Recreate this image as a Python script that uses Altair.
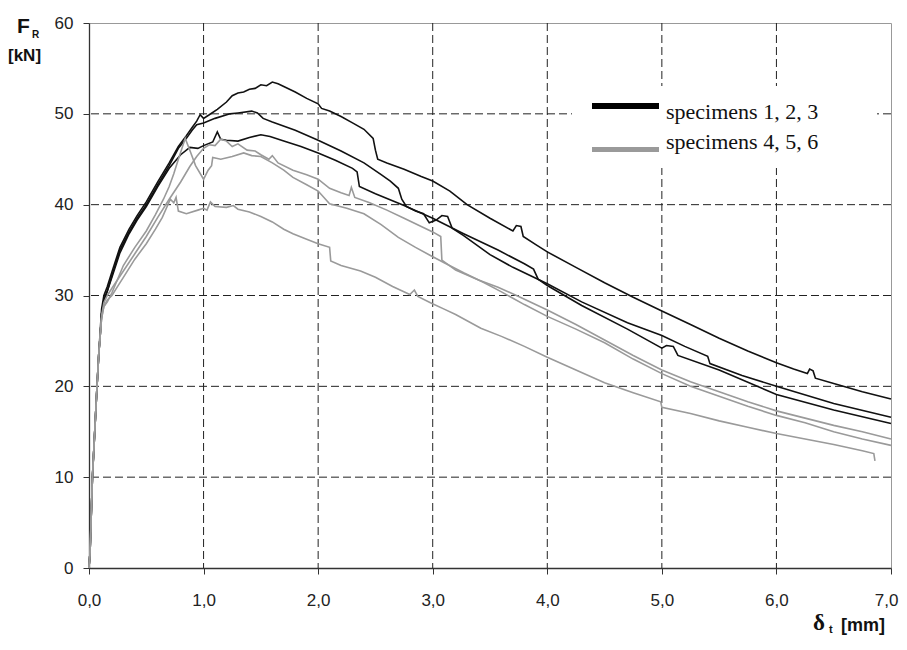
import altair as alt
import pandas as pd

# ---------------- data ----------------
b1_x = [0, 0.01, 0.02, 0.03, 0.05, 0.07, 0.085, 0.1, 0.11, 0.13, 0.16, 0.2, 0.27, 0.35, 0.42, 0.5, 0.6, 0.7, 0.78, 0.85, 0.9, 0.94,
        0.97, 1.0, 1.05, 1.12, 1.2, 1.25, 1.3, 1.35, 1.4, 1.45, 1.5, 1.55, 1.6, 1.65, 1.7, 1.8, 1.9, 2.0, 2.03, 2.1, 2.2, 2.3,
        2.4, 2.48, 2.5, 2.52, 2.6, 2.75, 2.9, 3.0, 3.15, 3.3, 3.5, 3.7, 3.73, 3.77, 3.79, 3.9, 4.0, 4.25, 4.5, 4.75, 5.0,
        5.25, 5.5, 5.75, 6.0, 6.15, 6.27, 6.29, 6.32, 6.34, 6.5, 6.75, 7.0]
b1_y = [0, 2, 6, 10, 15, 20, 23.5, 26.5, 28.5, 30, 31, 32.6, 35.3, 37.3, 38.8, 40.3, 42.5, 44.6, 46.4, 47.6, 48.5, 49.2,
        49.9, 49.5, 49.9, 50.5, 51.3, 52.0, 52.3, 52.4, 52.7, 52.8, 53.2, 53.1, 53.5, 53.3, 53.0, 52.4, 51.7, 51.1, 50.6, 50.3, 49.7, 49.0,
        48.3, 47.3, 46.0, 45.0, 44.6, 43.9, 43.1, 42.6, 41.5, 40.0, 38.5, 37.1, 37.7, 37.6, 36.5, 35.6, 34.8, 33.1, 31.4, 29.8, 28.3,
        26.8, 25.3, 23.9, 22.6, 21.9, 21.4, 21.9, 21.7, 20.9, 20.3, 19.4, 18.6]

b2_x = [0, 0.01, 0.02, 0.03, 0.05, 0.07, 0.085, 0.1, 0.11, 0.13, 0.16, 0.2, 0.27, 0.35, 0.42, 0.5, 0.6, 0.7, 0.78, 0.85, 0.9, 0.94,
        1.0, 1.1, 1.23, 1.3, 1.42, 1.47, 1.52, 1.6, 1.8, 2.0, 2.2, 2.4, 2.55, 2.63, 2.7, 2.73, 2.77, 2.85, 2.92, 2.97, 3.03, 3.08,
        3.13, 3.17, 3.27, 3.5, 3.7, 3.85, 4.0, 4.3, 4.7, 5.0, 5.2, 5.4, 5.42, 5.7, 6.0, 6.5, 7.0]
b2_y = [0, 2, 6, 10, 15, 20, 23.5, 26, 28, 29.5, 30.5, 32.2, 35, 37, 38.5, 40, 42.2, 44.3, 46.2, 47.3, 48.2, 48.8,
        49.0, 49.5, 50.0, 50.1, 50.3, 50.1, 49.5, 49.1, 48.2, 47.1, 45.9, 44.6, 43.3, 42.6, 41.8, 40.6, 39.8, 39.3, 39.0, 38.0, 38.3, 38.8,
        38.7, 37.4, 36.6, 34.5, 33.1, 32.2, 31.3, 29.3, 27.0, 25.6, 24.4, 23.3, 22.5, 21.2, 20.0, 18.1, 16.6]

b3_x = [0, 0.01, 0.02, 0.03, 0.05, 0.07, 0.085, 0.1, 0.11, 0.13, 0.16, 0.2, 0.27, 0.35, 0.42, 0.5, 0.6, 0.7, 0.8, 0.88, 0.95,
        1.0, 1.08, 1.12, 1.15, 1.2, 1.3, 1.4, 1.5, 1.58, 1.7, 1.85, 2.0, 2.15, 2.3, 2.34, 2.36, 2.5, 2.75, 3.0, 3.27, 3.57, 3.8,
        3.88, 3.92, 4.0, 4.3, 4.7, 5.0, 5.04, 5.1, 5.14, 5.5, 6.0, 6.5, 7.0]
b3_y = [0, 2, 6, 10, 15, 20, 23.5, 26, 28, 29.5, 30.5, 32.0, 34.7, 36.8, 38.3, 39.8, 42.0, 44.0, 45.5, 46.3, 46.2,
        46.5, 46.9, 48.0, 47.2, 47.1, 47.0, 47.4, 47.7, 47.5, 47.0, 46.4, 45.7, 44.9, 44.0, 43.6, 42.0, 41.2, 39.9, 38.5, 36.8, 35.0, 33.5,
        32.9, 31.8, 31.1, 28.9, 26.3, 24.2, 24.5, 24.4, 23.4, 21.8, 19.1, 17.4, 15.9]

g1_x = [0, 0.01, 0.02, 0.03, 0.05, 0.07, 0.085, 0.1, 0.11, 0.13, 0.16, 0.2, 0.3, 0.4, 0.5, 0.6, 0.7, 0.8, 0.88, 0.94, 1.0, 1.05,
        1.1, 1.15, 1.2, 1.25, 1.3, 1.38, 1.45, 1.5, 1.57, 1.6, 1.65, 1.78, 1.9, 2.0, 2.1, 2.2, 2.27, 2.29, 2.32, 2.45, 2.6, 2.75,
        2.9, 3.0, 3.07, 3.08, 3.2, 3.4, 3.57, 3.75, 4.0, 4.25, 4.5, 4.75, 5.0, 5.25, 5.5, 5.75, 6.0, 6.25, 6.5, 6.75, 7.0]
g1_y = [0, 2, 6, 10, 15, 20, 23.5, 26, 27.8, 29.2, 30.0, 30.8, 32.7, 34.6, 36.5, 38.6, 40.6, 42.5, 44.2, 45.3, 46.2, 46.6,
        46.5, 47.2, 47.0, 46.4, 46.7, 46.0, 45.9, 45.5, 45.0, 45.4, 44.6, 43.8, 43.3, 42.8, 41.8, 41.3, 41.0, 41.9, 40.8, 40.2, 39.4, 38.5,
        37.6, 37.0, 36.5, 33.9, 32.8, 31.7, 30.9, 29.9, 28.4, 26.8, 25.1, 23.4, 21.8, 20.5, 19.4, 18.3, 17.3, 16.5, 15.7, 15.0, 14.2]

g2_x = [0, 0.01, 0.02, 0.03, 0.05, 0.07, 0.085, 0.1, 0.11, 0.13, 0.16, 0.2, 0.3, 0.4, 0.5, 0.58, 0.65, 0.7, 0.74, 0.78, 0.84,
        0.88, 0.93, 1.0, 1.04, 1.07, 1.08, 1.15, 1.25, 1.35, 1.42, 1.5, 1.6, 1.7, 1.78, 1.9, 2.0, 2.1, 2.25, 2.4, 2.55, 2.7, 2.85,
        2.98, 3.1, 3.27, 3.45, 3.6, 3.8, 4.0, 4.25, 4.5, 4.75, 5.0, 5.25, 5.5, 5.75, 6.0, 6.25, 6.5, 6.75, 7.0]
g2_y = [0, 2, 6, 10, 15, 20, 23.5, 26, 27.5, 28.8, 29.3, 30.3, 33.3, 35.3, 37.1, 38.9, 40.6, 42.0, 43.4, 45.0, 47.3,
        46.0, 44.3, 42.8, 43.8, 44.3, 45.2, 45.0, 45.3, 45.7, 45.4, 45.3, 44.6, 43.8, 43.0, 42.2, 41.5, 40.1, 39.6, 39.0, 37.8, 36.4, 35.3,
        34.4, 33.6, 32.5, 31.4, 30.4, 29.0, 27.7, 26.3, 24.8, 23.0, 21.4, 20.0, 18.9, 17.8, 16.8, 16.0, 15.0, 14.2, 13.5]

g3_x = [0, 0.01, 0.02, 0.03, 0.05, 0.07, 0.085, 0.1, 0.11, 0.13, 0.16, 0.2, 0.25, 0.3, 0.4, 0.5, 0.58, 0.64, 0.71, 0.74, 0.76,
        0.78, 0.85, 0.95, 1.0, 1.03, 1.06, 1.1, 1.2, 1.26, 1.3, 1.4, 1.5, 1.6, 1.7, 1.78, 1.9, 2.0, 2.1, 2.11, 2.2, 2.37, 2.5,
        2.65, 2.8, 2.84, 2.87, 2.98, 3.1, 3.2, 3.42, 3.6, 3.8, 4.0, 4.25, 4.5, 4.75, 4.99, 5.0, 5.25, 5.5, 5.75, 6.0, 6.25, 6.5,
        6.75, 6.85, 6.86]
g3_y = [0, 2, 6, 10, 15, 20, 23.5, 26, 27.5, 28.8, 29.5, 30.0, 31.0, 32.0, 34.0, 35.7, 37.3, 38.6, 40.6, 40.2, 40.8,
        39.3, 39.0, 39.4, 39.6, 39.4, 40.3, 39.8, 39.7, 39.9, 39.5, 39.2, 38.7, 38.1, 37.3, 36.8, 36.2, 35.7, 35.3, 33.8, 33.3, 32.7, 32.0,
        31.0, 30.1, 30.6, 29.9, 29.2, 28.5, 27.9, 26.4, 25.5, 24.4, 23.2, 21.8, 20.4, 19.3, 18.3, 17.7, 17.0, 16.2, 15.5, 14.8, 14.2, 13.6,
        12.9, 12.6, 11.8]

curves = [
    ("1", "specimens 1, 2, 3", b1_x, b1_y),
    ("2", "specimens 1, 2, 3", b2_x, b2_y),
    ("3", "specimens 1, 2, 3", b3_x, b3_y),
    ("4", "specimens 4, 5, 6", g1_x, g1_y),
    ("5", "specimens 4, 5, 6", g2_x, g2_y),
    ("6", "specimens 4, 5, 6", g3_x, g3_y),
]

x_ticks = [0, 1, 2, 3, 4, 5, 6, 7]
y_ticks = [0, 10, 20, 30, 40, 50, 60]
grid_x = [1, 2, 3, 4, 5, 6]
grid_y = [10, 20, 30, 40, 50]
groups = ["specimens 1, 2, 3", "specimens 4, 5, 6"]
group_colors = ["#111111", "#9a9a9a"]

rows = []
for sid, grp, xs, ys in curves:
    for i, (xv, yv) in enumerate(zip(xs, ys)):
        rows.append({"specimen": sid, "group": grp, "i": i, "x": xv, "y": yv})
df = pd.DataFrame(rows)

W, H = 802, 545
xscale = alt.Scale(domain=[0, 7], nice=False, zero=True)
yscale = alt.Scale(domain=[0, 60], nice=False, zero=True)

x_axis = alt.Axis(values=x_ticks, grid=False, title=None, labelFlush=False,
                  labelExpr="replace(format(datum.value, '.1f'), '.', ',')",
                  labelAlign={"condition": {"test": "datum.value >= 7", "value": "right"}, "value": "center"},
                  labelOffset={"condition": {"test": "datum.value >= 7", "value": 7}, "value": 0},
                  labelFont="Liberation Sans", labelFontSize=17, labelColor="#222",
                  labelPadding=18, tickSize=6, tickColor="#333",
                  domainColor="#333", domainWidth=1.3)
y_axis = alt.Axis(values=y_ticks, grid=False, title=None, format="d", labelFlush=False,
                  labelFont="Liberation Sans", labelFontSize=17, labelColor="#222",
                  labelPadding=10, tickSize=6, tickColor="#333",
                  domainColor="#333", domainWidth=1.3)

grid_v = alt.Chart(pd.DataFrame({"gx": grid_x})).mark_rule(
    color="#222", strokeWidth=1, strokeDash=[8, 4]
).encode(x=alt.X("gx:Q", scale=xscale, axis=x_axis, title=None))

grid_h = alt.Chart(pd.DataFrame({"gy": grid_y})).mark_rule(
    color="#222", strokeWidth=1, strokeDash=[8, 4]
).encode(y=alt.Y("gy:Q", scale=yscale, axis=y_axis, title=None))

lines = alt.Chart(df).mark_line(strokeWidth=1.6, interpolate="linear").encode(
    x=alt.X("x:Q", scale=xscale, axis=x_axis, title=None),
    y=alt.Y("y:Q", scale=yscale, axis=y_axis, title=None),
    color=alt.Color("group:N", scale=alt.Scale(domain=groups, range=group_colors), legend=None),
    detail="specimen:N",
    order=alt.Order("i:Q"),
)

# legend (drawn by hand, like the reference)
leg_box = alt.Chart(pd.DataFrame({"k": [0]})).mark_rect(fill="white").encode(
    x=alt.value(483), x2=alt.value(788), y=alt.value(63), y2=alt.value(145))
leg_black = alt.Chart(pd.DataFrame({"k": [0]})).mark_rule(color="#000", strokeWidth=6).encode(
    x=alt.value(503), x2=alt.value(570), y=alt.value(83))
leg_grey = alt.Chart(pd.DataFrame({"k": [0]})).mark_rule(color="#9a9a9a", strokeWidth=5).encode(
    x=alt.value(503), x2=alt.value(570), y=alt.value(126.5))
leg_t1 = alt.Chart(pd.DataFrame({"t": [groups[0]]})).mark_text(
    font="Liberation Serif", fontSize=22, color="#111", align="left", baseline="alphabetic"
).encode(x=alt.value(577), y=alt.value(96), text="t:N")
leg_t2 = alt.Chart(pd.DataFrame({"t": [groups[1]]})).mark_text(
    font="Liberation Serif", fontSize=22, color="#111", align="left", baseline="alphabetic"
).encode(x=alt.value(577), y=alt.value(126), text="t:N")

def label(txt, x, y, size, font="Liberation Sans", weight="bold"):
    return alt.Chart(pd.DataFrame({"t": [txt]})).mark_text(
        font=font, fontSize=size, fontWeight=weight, color="#111",
        align="left", baseline="alphabetic"
    ).encode(x=alt.value(x), y=alt.value(y), text="t:N")

y_title = [label("F", -72, 10, 21), label("R", -57, 15, 10), label("[kN]", -81, 38, 17)]
x_title = [label("δ", 724, 607, 23, font="Liberation Serif"), label("t", 740, 610, 11),
           label("[mm]", 752, 608, 18)]

chart = alt.layer(grid_v, grid_h, lines, leg_box, leg_black, leg_grey, leg_t1, leg_t2,
                  *y_title, *x_title).properties(
    width=W, height=H,
    autosize=alt.AutoSizeParams(type="none"),
    padding={"left": 81, "top": 15, "right": 8, "bottom": 70},
).configure_view(stroke="#999", strokeWidth=1)

chart.save("out.html", embed_options={"renderer": "svg", "actions": False})
